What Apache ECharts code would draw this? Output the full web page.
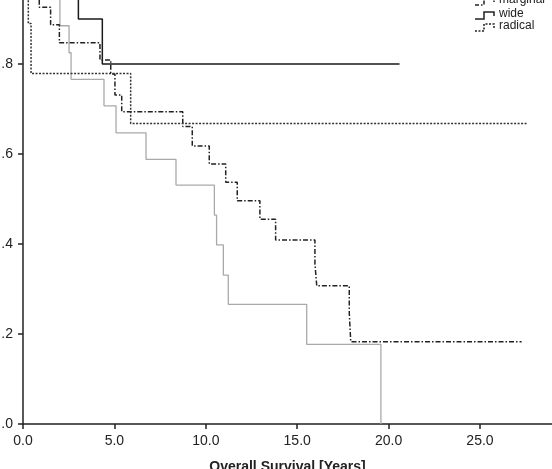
<html lang="en">
<head>
    <meta charset="UTF-8">
    <title>Overall Survival</title>
    <script src="https://cdn.jsdelivr.net/npm/echarts@6/dist/echarts.min.js"></script>
    <style>
        html, body { margin: 0; padding: 0; background: #fff; }
        #chart { width: 552px; height: 469px; }
    </style>
</head>
<body>
<div id="chart"></div>
<script type="text/javascript">

    // tick labels
    var xTicks = [0, 5, 10, 15, 20, 25];
    var yTicks = [0, 0.2, 0.4, 0.6, 0.8];

    // survival curves, years / cumulative survival
    var intraT = [0, 2.02, 2.52, 2.63, 4.43, 5.09, 6.73, 8.37, 10.47, 10.59, 10.96, 11.23, 15.52, 19.58, 19.58];
    var intraS = [1, 0.885, 0.825, 0.766, 0.707, 0.647, 0.588, 0.531, 0.464, 0.398, 0.331, 0.266, 0.177, 0.177, 0];

    var marginalT = [0, 0.89, 1.51, 1.99, 4.21, 4.80, 5.03, 5.40, 8.74, 9.26, 10.19, 11.09, 11.72, 12.96, 13.82, 15.97, 16.07, 17.85, 17.93, 27.28];
    var marginalS = [1, 0.926, 0.887, 0.847, 0.809, 0.778, 0.731, 0.694, 0.661, 0.618, 0.578, 0.537, 0.496, 0.455, 0.409, 0.357, 0.307, 0.246, 0.183, 0.183];

    var wideT = [0, 3.03, 4.34, 20.6];
    var wideS = [1, 0.9, 0.8, 0.8];

    var radicalT = [0, 0.29, 0.44, 5.89, 27.59];
    var radicalS = [1, 0.890, 0.779, 0.668, 0.668];

    function pairs(t, s) {
        var out = [];
        for (var i = 0; i < t.length; i++) {
            out.push([t[i], s[i]]);
        }
        return out;
    }

    var myChart = echarts.init(document.getElementById('chart'));

    var font = "'Liberation Sans', Arial, sans-serif";

    // legend drawn as step icons like the original
    function legendRow(y, label, dash) {
        return [{
            type: 'polyline',
            shape: {points: [[475, y + 4], [484, y + 4], [484, y - 3], [494, y - 3], [494, y + 1]]},
            style: {stroke: '#222', lineWidth: 1.5, fill: null, lineDash: dash}
        }, {
            type: 'text',
            left: 499,
            top: y - 7,
            style: {text: label, font: '12px ' + font, fill: '#222'}
        }];
    }

    var graphics = [].concat(
        legendRow(1, 'marginal', [4, 2, 1.5, 2]),
        legendRow(15, 'wide', null),
        legendRow(27, 'radical', [2, 1.5])
    );

    var option = {
        animation: false,
        backgroundColor: '#fff',
        grid: {
            left: 23,
            right: 0,
            top: 0,
            bottom: 45,
            containLabel: false,
            outerBoundsMode: 'none'
        },
        xAxis: {
            type: 'value',
            min: 0,
            max: 28.94,
            name: 'Overall Survival [Years]',
            nameLocation: 'middle',
            nameGap: 36,
            nameMoveOverlap: false,
            nameTextStyle: {fontFamily: font, fontSize: 14, fontWeight: 'bold', color: '#222', verticalAlign: 'top'},
            axisLine: {lineStyle: {color: '#222', width: 1.5}},
            axisTick: {length: 5, lineStyle: {color: '#222', width: 1.5}, customValues: xTicks},
            axisLabel: {
                customValues: xTicks,
                margin: 10,
                fontFamily: font,
                fontSize: 14,
                color: '#222',
                formatter: function (v) { return v.toFixed(1); }
            },
            splitLine: {show: false}
        },
        yAxis: {
            type: 'value',
            min: 0,
            max: 0.9422,
            axisLine: {show: true, lineStyle: {color: '#222', width: 1.5}},
            axisTick: {show: true, length: 5, lineStyle: {color: '#222', width: 1.5}, customValues: yTicks},
            axisLabel: {
                customValues: yTicks,
                margin: 10,
                fontFamily: font,
                fontSize: 14,
                color: '#222',
                formatter: function (v) { return v.toFixed(1).replace(/^0/, ''); }
            },
            splitLine: {show: false}
        },
        graphic: graphics,
        series: [
            {
                name: 'intralesional',
                type: 'line',
                step: 'end',
                showSymbol: false,
                lineStyle: {color: '#a9a9a9', width: 1.3},
                data: pairs(intraT, intraS)
            },
            {
                name: 'marginal',
                type: 'line',
                step: 'end',
                showSymbol: false,
                lineStyle: {color: '#222', width: 1.5, type: [5, 2, 1.5, 2]},
                data: pairs(marginalT, marginalS)
            },
            {
                name: 'wide',
                type: 'line',
                step: 'end',
                showSymbol: false,
                lineStyle: {color: '#1a1a1a', width: 1.5},
                data: pairs(wideT, wideS)
            },
            {
                name: 'radical',
                type: 'line',
                step: 'end',
                showSymbol: false,
                lineStyle: {color: '#333', width: 1.5, type: [2, 1.5]},
                data: pairs(radicalT, radicalS)
            }
        ]
    };

    myChart.setOption(option); // 渲染echarts

</script>
</body>
</html>
